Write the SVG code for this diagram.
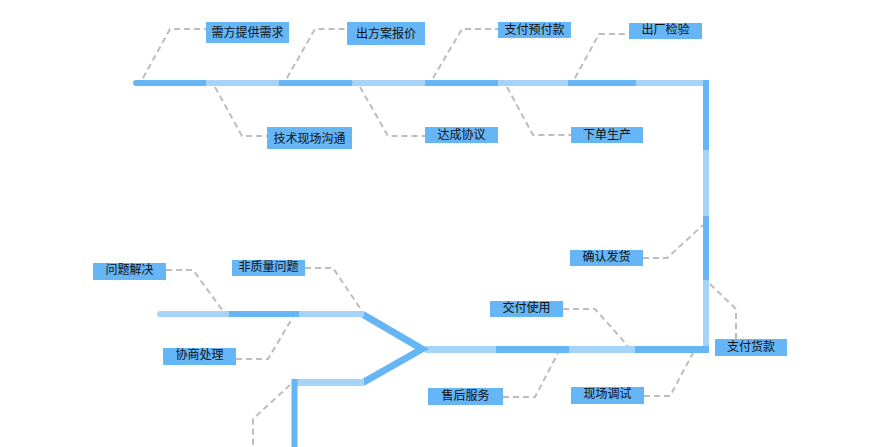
<svg xmlns="http://www.w3.org/2000/svg" width="880" height="447" viewBox="0 0 880 447">
<style>
.d{stroke:#66b5f5;fill:none}
.l{stroke:#a6d3f8;fill:none}
.dash{stroke:#bdbdbd;stroke-width:2;stroke-dasharray:6 4;fill:none}
.box{fill:#66b5f5}
.t{font-family:"Liberation Sans","Noto Sans CJK SC",sans-serif;font-size:12px;fill:#111;text-anchor:middle}
</style>
<rect width="880" height="447" fill="#fff"/>
<g id="connectors">
<g stroke-width="6">
<path class="d" d="M136 83H206" stroke-linecap="round"/>
<path class="l" d="M206 83H279"/>
<path class="d" d="M279 83H352"/>
<path class="l" d="M352 83H425"/>
<path class="d" d="M425 83H498"/>
<path class="l" d="M498 83H568"/>
<path class="d" d="M568 83H636"/>
<path class="l" d="M636 83H709"/>
<path class="d" d="M706 80V150"/>
<path class="l" d="M706 150V216"/>
<path class="d" d="M706 216V280"/>
<path class="l" d="M706 280V347"/>
</g>
<g stroke-width="7">
<path class="d" d="M635 349.5H709"/>
<path class="l" d="M569 349.5H635"/>
<path class="d" d="M496 349.5H569"/>
<path class="l" d="M425 349.5H496"/>
<path class="d" d="M363 314.5L422 349L363 382.5" stroke-miterlimit="10"/>
<path class="l" d="M297 382.5H364"/>
</g>
<g stroke-width="6">
<path class="l" d="M160 314H229" stroke-linecap="round"/>
<path class="d" d="M229 314H299"/>
<path class="l" d="M299 314H364"/>
<path class="d" d="M294.5 379V447"/>
</g>
<path class="dash" d="M143 78L170 29H206"/>
<path class="dash" d="M215 87L242 136H267"/>
<path class="dash" d="M287 78L315 29H347"/>
<path class="dash" d="M360 87L388 136H425"/>
<path class="dash" d="M433 78L462 29H498"/>
<path class="dash" d="M507 87L533 135H571"/>
<path class="dash" d="M575 78L599 34H629"/>
<path class="dash" d="M643 258H667L703 225"/>
<path class="dash" d="M710 284L736 309V339"/>
<path class="dash" d="M563 309H595L628 346"/>
<path class="dash" d="M503 397H535L558 353"/>
<path class="dash" d="M644 396H670L693 353"/>
<path class="dash" d="M166 270H193L223 311"/>
<path class="dash" d="M305 268H333L362 311"/>
<path class="dash" d="M236 359H268L293 317"/>
<path class="dash" d="M290 385L253 419V447"/>
</g>
<g id="n1"><rect class="box" x="206" y="22" width="83" height="21"/><text class="t" x="247.5" y="37">需方提供需求</text></g>
<g id="n2"><rect class="box" x="347" y="22" width="78" height="23"/><text class="t" x="386" y="38">出方案报价</text></g>
<g id="n3"><rect class="box" x="267" y="127" width="85" height="22"/><text class="t" x="309.5" y="143">技术现场沟通</text></g>
<g id="n4"><rect class="box" x="425" y="127" width="73" height="16"/><text class="t" x="461.5" y="139">达成协议</text></g>
<g id="n5"><rect class="box" x="498" y="22" width="73" height="16"/><text class="t" x="534.5" y="33.5">支付预付款</text></g>
<g id="n6"><rect class="box" x="629" y="23" width="73" height="16"/><text class="t" x="665.5" y="33.5">出厂检验</text></g>
<g id="n7"><rect class="box" x="571" y="127" width="72" height="16"/><text class="t" x="607" y="139">下单生产</text></g>
<g id="n8"><rect class="box" x="570" y="250" width="73" height="16"/><text class="t" x="606.5" y="261">确认发货</text></g>
<g id="n9"><rect class="box" x="715" y="339" width="72" height="17"/><text class="t" x="751" y="351">支付货款</text></g>
<g id="n10"><rect class="box" x="490" y="301" width="73" height="16"/><text class="t" x="526.5" y="311.5">交付使用</text></g>
<g id="n11"><rect class="box" x="428" y="388" width="75" height="17"/><text class="t" x="465.5" y="400">售后服务</text></g>
<g id="n12"><rect class="box" x="571" y="387" width="73" height="17"/><text class="t" x="607.5" y="397.5">现场调试</text></g>
<g id="n13"><rect class="box" x="93" y="263" width="73" height="17"/><text class="t" x="129.5" y="274">问题解决</text></g>
<g id="n14"><rect class="box" x="232" y="260" width="73" height="16"/><text class="t" x="268.5" y="271">非质量问题</text></g>
<g id="n15"><rect class="box" x="163" y="348" width="73" height="17"/><text class="t" x="199.5" y="359">协商处理</text></g>
</svg>
